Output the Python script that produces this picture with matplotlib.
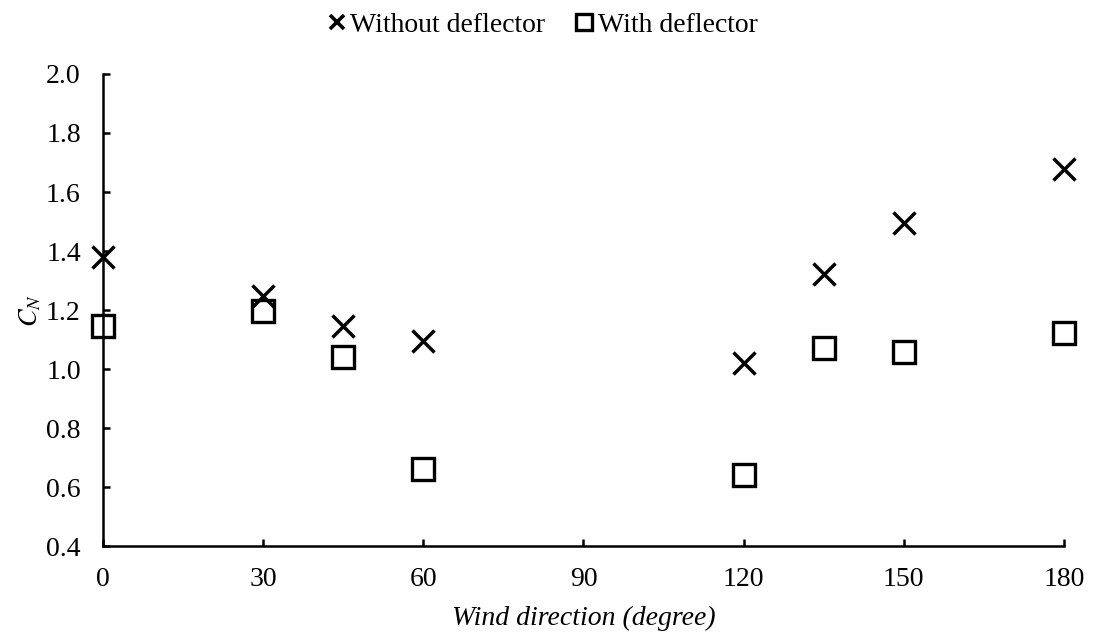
import matplotlib
matplotlib.use("Agg")
import matplotlib.pyplot as plt
from matplotlib.lines import Line2D

# Normal force coefficient versus wind direction
wind_direction = [0, 30, 45, 60, 120, 135, 150, 180]
cn_without = [1.38, 1.246, 1.146, 1.096, 1.021, 1.323, 1.495, 1.679]
cn_with = [1.145, 1.197, 1.040, 0.662, 0.641, 1.070, 1.059, 1.121]

x_ticks = [0, 30, 60, 90, 120, 150, 180]
y_ticks = [0.4, 0.6, 0.8, 1.0, 1.2, 1.4, 1.6, 1.8, 2.0]

plt.rcParams["font.family"] = ["Liberation Serif", "DejaVu Serif"]
plt.rcParams["mathtext.fontset"] = "stix"

fig = plt.figure(figsize=(10.93, 6.39), dpi=100)
ax = fig.add_axes([0.0942, 0.1455, 0.8793, 0.7387])

ax.plot(wind_direction, cn_without, linestyle="none", marker="x",
        markersize=16, markeredgewidth=2.5, color="black",
        clip_on=False, zorder=3)
ax.plot(wind_direction, cn_with, linestyle="none", marker="s",
        markersize=16, markeredgewidth=2.4, markerfacecolor="none",
        markeredgecolor="black", clip_on=False, zorder=3)

ax.set_xlim(0, 180)
ax.set_ylim(0.4, 2.0)
ax.set_xticks(x_ticks)
ax.set_yticks(y_ticks)
ax.set_yticklabels([f"{v:.1f}" for v in y_ticks])

for side in ("top", "right"):
    ax.spines[side].set_visible(False)
for side in ("left", "bottom"):
    ax.spines[side].set_linewidth(1.8)

ax.tick_params(axis="both", direction="in", length=5, width=1.8,
               labelsize=20)
ax.tick_params(axis="x", pad=15)
ax.tick_params(axis="y", pad=16)

ax.set_xlabel("Wind direction (degree)", fontsize=20, style="italic",
              labelpad=10)
ax.set_ylabel("$C_N$", fontsize=19, labelpad=2)

legend_handles = [
    Line2D([], [], linestyle="none", marker="x", markersize=10.5,
           markeredgewidth=2.6, color="black", label="Without deflector"),
    Line2D([], [], linestyle="none", marker="s", markersize=11.5,
           markeredgewidth=2.4, markerfacecolor="none",
           markeredgecolor="black", label="With deflector"),
]
fig.legend(handles=legend_handles, loc="upper center",
           bbox_to_anchor=(0.497, 1.0), ncol=2, frameon=False, fontsize=20,
           handlelength=0.6, handletextpad=0.2, columnspacing=1.1,
           borderaxespad=0.05)

fig.savefig("out.png", dpi=100)
